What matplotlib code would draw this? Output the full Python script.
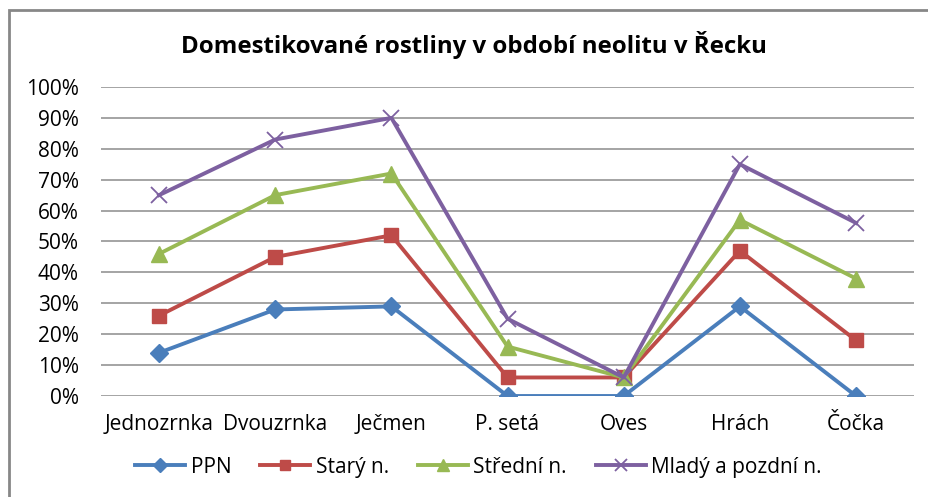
import matplotlib.pyplot as plt
import numpy as np
from matplotlib.patches import Rectangle
from matplotlib.ticker import PercentFormatter

plt.rcParams['font.family'] = ['Open Sans', 'DejaVu Sans']

# Plodiny na ose X
plodiny = ['Jednozrnka', 'Dvouzrnka', 'Ječmen', 'P. setá', 'Oves', 'Hrách', 'Čočka']

# Podíl nalezišť (%) pro jednotlivá období
ppn = [14, 28, 29, 0, 0, 29, 0]
stary = [26, 45, 52, 6, 6, 47, 18]
stredni = [46, 65, 72, 16, 6, 57, 38]
mlady = [65, 83, 90, 25, 6, 75, 56]

x = np.arange(len(plodiny))

fig = plt.figure(figsize=(9.29, 4.97), dpi=100)
ax = fig.add_axes([0.1087, 0.2032, 0.8753, 0.6218])

# rámeček kolem celého grafu
fig.patches.append(Rectangle((9 / 929, -0.05), 1.2, 1 - 10 / 497 + 0.05,
                             transform=fig.transFigure, fill=False,
                             edgecolor='#878787', linewidth=2))

lw = 2.8
ax.plot(x, ppn, color='#4A7EBB', linewidth=lw, marker='D', markersize=9.5, label='PPN')
ax.plot(x, stary, color='#BE4B48', linewidth=lw, marker='s', markersize=10.5, label='Starý n.')
ax.plot(x, stredni, color='#98B954', linewidth=lw, marker='^', markersize=11.5, label='Střední n.')
ax.plot(x, mlady, color='#7D60A0', linewidth=lw, marker='x', markersize=11.5,
        markeredgewidth=1.3, label='Mladý a pozdní n.')

ax.set_xlim(-0.5, len(plodiny) - 0.5)
ax.set_ylim(0, 100)
ax.set_yticks(np.arange(0, 101, 10))
ax.yaxis.set_major_formatter(PercentFormatter(decimals=0))
ax.set_xticks(x)
ax.set_xticklabels(plodiny)
ax.grid(axis='y', color='#8c8c8c', linewidth=1.1)
ax.set_axisbelow(True)
for s in ax.spines.values():
    s.set_visible(False)
ax.tick_params(length=0, labelsize=15, colors='#000000')
ax.tick_params(axis='x', pad=13)
ax.tick_params(axis='y', pad=16)

fig.text(0.51, 0.909, 'Domestikované rostliny v období neolitu v Řecku',
         ha='center', va='center', fontsize=17.3, fontweight='bold')

fig.legend(loc='center', bbox_to_anchor=(0.515, 0.06), ncol=4, frameon=False,
           fontsize=15, handlelength=2.4, columnspacing=1.4, handletextpad=0.25,
           markerscale=0.75)

fig.savefig('out.png', dpi=100)
